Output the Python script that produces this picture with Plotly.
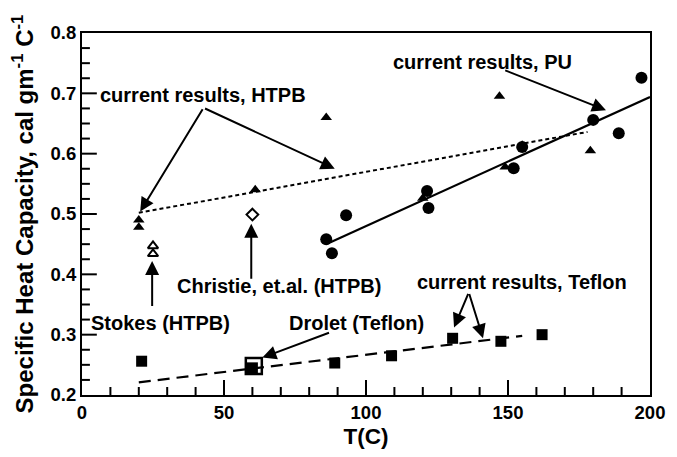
import plotly.graph_objects as go

# Specific heat capacity vs temperature
htpb_T = [20, 20, 61, 86, 120, 149, 155, 147, 179]
htpb_cp = [0.49, 0.478, 0.54, 0.66, 0.526, 0.578, 0.614, 0.695, 0.605]

pu_T = [86, 88, 93, 121.5, 122, 152, 155, 180, 189, 197]
pu_cp = [0.458, 0.435, 0.498, 0.538, 0.51, 0.576, 0.611, 0.656, 0.634, 0.726]

teflon_T = [21, 60, 89, 109, 130.5, 147.5, 162]
teflon_cp = [0.256, 0.245, 0.253, 0.265, 0.294, 0.289, 0.3]

stokes_T = [25, 25]
stokes_cp = [0.447, 0.434]

christie_T = [60]
christie_cp = [0.499]

drolet_T = [60.5]
drolet_cp = [0.248]

# Linear fits (end points)
htpb_fit_T = [20, 178]
htpb_fit_cp = [0.502, 0.636]
pu_fit_T = [87.5, 200]
pu_fit_cp = [0.453, 0.694]
teflon_fit_T = [20, 155]
teflon_fit_cp = [0.221, 0.298]

# Axis ticks
x_ticks = [0, 50, 100, 150, 200]
x_tick_labels = ["0", "50", "100", "150", "200"]
y_ticks = [0.2, 0.3, 0.4, 0.5, 0.6, 0.7, 0.8]
y_tick_labels = ["0.2", "0.3", "0.4", "0.5", "0.6", "0.7", "0.8"]
X_MINOR_STEP = 10
Y_MINOR_PER_MAJOR = 4

T_RANGE = [0, 200]
CP_RANGE = [0.2, 0.8]

WIDTH, HEIGHT = 677, 457
MARGIN = dict(l=82, r=20, t=33, b=62)
PLOT_W = WIDTH - MARGIN["l"] - MARGIN["r"]
PLOT_H = HEIGHT - MARGIN["t"] - MARGIN["b"]
MAJOR_LEN, MINOR_LEN = 15, 8  # px

FONT = "Liberation Sans, Arial, Helvetica, sans-serif"

fig = go.Figure()

# Inward tick marks along the bottom and left frame edges, built as one
# line trace (lengths converted from pixels to data units).
px_per_T = PLOT_W / (T_RANGE[1] - T_RANGE[0])
px_per_cp = PLOT_H / (CP_RANGE[1] - CP_RANGE[0])
tx, ty = [], []
for t in range(T_RANGE[0] + X_MINOR_STEP, T_RANGE[1], X_MINOR_STEP):
    ln = (MAJOR_LEN if t in x_ticks else MINOR_LEN) / px_per_cp
    tx += [t, t, None]
    ty += [CP_RANGE[0], CP_RANGE[0] + ln, None]
for i in range(len(y_ticks) - 1):
    lo, hi = y_ticks[i], y_ticks[i + 1]
    for k in range(Y_MINOR_PER_MAJOR):
        if i == 0 and k == 0:
            continue
        v = lo + (hi - lo) * k / Y_MINOR_PER_MAJOR
        ln = (MAJOR_LEN if k == 0 else MINOR_LEN) / px_per_T
        tx += [T_RANGE[0], T_RANGE[0] + ln, None]
        ty += [v, v, None]
fig.add_trace(go.Scatter(x=tx, y=ty, mode="lines", hoverinfo="skip",
                         line=dict(color="black", width=2)))

fig.add_trace(go.Scatter(x=htpb_fit_T, y=htpb_fit_cp, mode="lines",
                         line=dict(color="black", width=2, dash="4px,3px")))
fig.add_trace(go.Scatter(x=pu_fit_T, y=pu_fit_cp, mode="lines",
                         line=dict(color="black", width=2.2)))
fig.add_trace(go.Scatter(x=teflon_fit_T, y=teflon_fit_cp, mode="lines",
                         line=dict(color="black", width=2.2, dash="12px,7px")))

fig.add_trace(go.Scatter(x=pu_T, y=pu_cp, mode="markers",
                         marker=dict(symbol="circle", size=12, color="black")))
fig.add_trace(go.Scatter(x=htpb_T, y=htpb_cp, mode="markers",
                         marker=dict(symbol="triangle-up", size=10, color="black")))
fig.add_trace(go.Scatter(x=teflon_T, y=teflon_cp, mode="markers",
                         marker=dict(symbol="square", size=11, color="black")))
fig.add_trace(go.Scatter(x=stokes_T, y=stokes_cp, mode="markers",
                         marker=dict(symbol="triangle-up-open", size=9, color="black",
                                     line=dict(width=2))))
fig.add_trace(go.Scatter(x=christie_T, y=christie_cp, mode="markers",
                         marker=dict(symbol="diamond-open", size=9, color="black",
                                     line=dict(width=2))))
fig.add_trace(go.Scatter(x=drolet_T, y=drolet_cp, mode="markers",
                         marker=dict(symbol="square-open", size=16, color="black",
                                     line=dict(width=2.5))))

label_font = dict(family=FONT, size=20, color="black")


def arrow(x, y, ax, ay):
    return dict(x=x, y=y, ax=ax, ay=ay, xref="x", yref="y", axref="x", ayref="y",
                text="", showarrow=True, arrowhead=2, arrowsize=1.4,
                arrowwidth=2, arrowcolor="black")


def label(x, y, text):
    return dict(x=x, y=y, xref="x", yref="y", text="<b>" + text + "</b>",
                showarrow=False, font=label_font)


annotations = [
    label(42.5, 0.697, "current results, HTPB"),
    arrow(20.5, 0.504, 42.8, 0.676),
    arrow(89, 0.575, 42.8, 0.676),
    label(141, 0.752, "current results, PU"),
    arrow(184.5, 0.672, 148.5, 0.739),
    label(69.5, 0.38, "Christie, et.al. (HTPB)"),
    arrow(59.6, 0.484, 59.6, 0.39),
    label(27.5, 0.319, "Stokes (HTPB)"),
    arrow(24.7, 0.422, 24.7, 0.345),
    label(96.5, 0.319, "Drolet (Teflon)"),
    arrow(63.5, 0.262, 87.5, 0.304),
    label(155, 0.387, "current results, Teflon"),
    arrow(131, 0.312, 136.2, 0.370),
    arrow(141.2, 0.294, 136.2, 0.370),
]

tick_font = dict(family=FONT, size=18.5, color="black", weight="bold")

fig.update_layout(
    width=WIDTH, height=HEIGHT,
    margin=MARGIN,
    paper_bgcolor="white", plot_bgcolor="white",
    showlegend=False,
    font=dict(family=FONT, color="black"),
    annotations=annotations,
    xaxis=dict(
        range=T_RANGE, showgrid=False, zeroline=False,
        showline=True, linecolor="black", linewidth=2, mirror=True,
        ticks="", tickvals=x_ticks,
        ticktext=["<b>" + s + "</b>" for s in x_tick_labels],
        tickfont=tick_font,
        title=dict(text="<b>T(C)</b>", font=dict(family=FONT, size=22.5), standoff=6),
    ),
    yaxis=dict(
        range=CP_RANGE, showgrid=False, zeroline=False,
        showline=True, linecolor="black", linewidth=2, mirror=True,
        ticks="", tickvals=y_ticks,
        ticktext=["<b>" + s + "</b>" for s in y_tick_labels],
        tickfont=tick_font,
        title=dict(text="<b>Specific Heat Capacity, cal gm<sup>-1</sup> C<sup>-1</sup></b>",
                   font=dict(family=FONT, size=24), standoff=10),
    ),
)

fig.write_html("out.html")
